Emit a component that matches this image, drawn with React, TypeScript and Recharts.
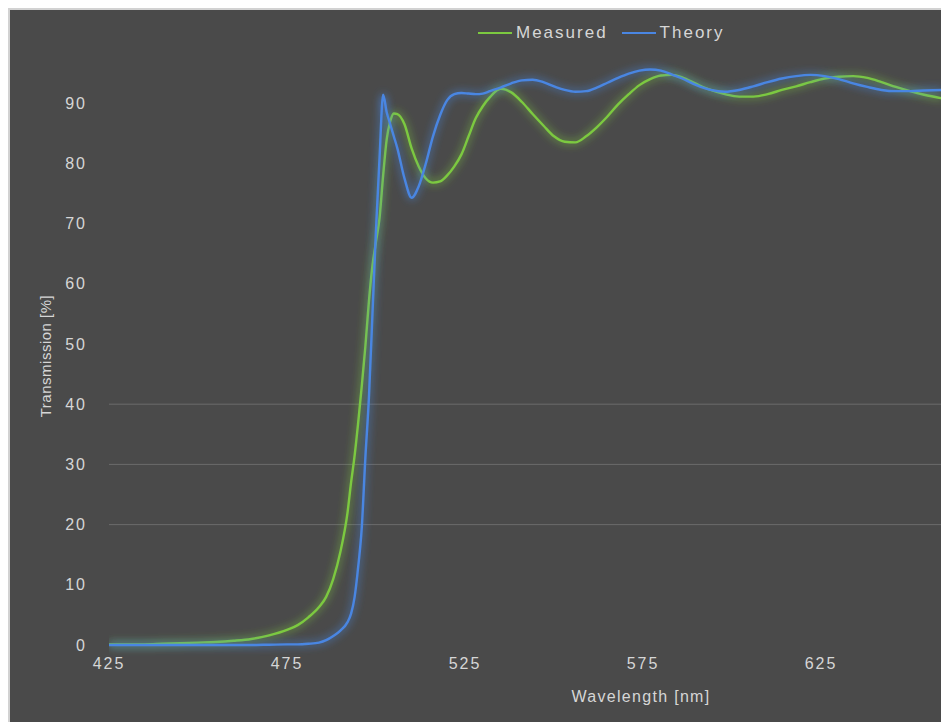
import { LineChart, Line, XAxis, YAxis, ReferenceLine } from "recharts";

const wavelengths = [
  425, 430, 435, 440, 445, 450, 455, 460, 465, 470,
  475, 478, 481, 484, 486, 488, 490, 492, 493, 494,
  495, 496, 497, 498, 499, 500, 501, 502, 503, 504,
  505, 506, 508, 510, 512, 514, 516, 518, 520, 522,
  524, 526, 528, 530, 532, 535, 538, 541, 544, 547,
  550, 553, 556, 559, 562, 565, 568, 571, 574, 577,
  580, 583, 586, 590, 594, 598, 602, 606, 610, 614,
  618, 622, 626, 630, 634, 638, 642, 646, 650, 654,
  659,
];

const measured = [
  0.1, 0.1, 0.1, 0.2, 0.3, 0.4, 0.5, 0.7, 1.0, 1.6,
  2.5, 3.3, 4.6, 6.3, 8, 11, 15.5, 22, 27, 31.5,
  37, 43, 49.5, 57, 63, 67, 71, 78, 84, 87,
  88.3, 88.2, 86.5, 82.5, 79.5, 77.5, 76.8, 77, 78, 79.5,
  81.5, 84.5, 87.5, 89.5, 91, 92.4, 91.8, 90.2, 88.2, 86.3,
  84.5, 83.6, 83.5, 84.5, 86, 87.8, 89.8, 91.5, 93, 94,
  94.6, 94.7, 94.3, 93.2, 92.2, 91.5, 91.1, 91.1, 91.5, 92.2,
  92.8, 93.5, 94.1, 94.4, 94.5, 94.2, 93.5, 92.7, 92, 91.4,
  90.8,
];

const theory = [
  0, 0, 0, 0, 0, 0, 0, 0, 0, 0.05,
  0.1, 0.1, 0.2, 0.4, 0.8, 1.5, 2.4, 3.8, 5.2, 8,
  13, 19.5, 31, 41, 55, 69, 81, 91.4, 88.5, 86.5,
  84.5, 82.5, 77.5, 74.3, 76.2, 80, 84.5, 88, 90.5, 91.5,
  91.7, 91.6, 91.5, 91.6, 92, 92.6, 93.3, 93.8, 93.9, 93.5,
  92.8, 92.2, 91.9, 92, 92.6, 93.4, 94.2, 94.9, 95.4, 95.6,
  95.4, 94.8, 94.1, 93, 92.2, 91.9, 92.2, 92.8, 93.5, 94.1,
  94.5, 94.7, 94.5, 94, 93.3, 92.7, 92.2, 92, 92, 92.1,
  92.2,
];

const xTicks = [425, 475, 525, 575, 625];
const yTicks = [0, 10, 20, 30, 40, 50, 60, 70, 80, 90];
const gridValues = [20, 30, 40];

const data = wavelengths.map((wl, i) => ({ wl, measured: measured[i], theory: theory[i] }));

const GREEN = "#7cc940";
const BLUE = "#4a86e2";
const TEXT = "#d6d6d6";
const FONT = "'Liberation Sans', Arial, sans-serif";

const tickStyle = { fill: TEXT, fontSize: 16, fontFamily: FONT, letterSpacing: 2 };

const series = [
  { key: "measured", name: "Measured", color: GREEN },
  { key: "theory", name: "Theory", color: BLUE },
];

function ChartLegend() {
  return (
    <div
      style={{
        position: "absolute",
        left: 468,
        top: 13,
        display: "flex",
        alignItems: "center",
        fontFamily: FONT,
        fontSize: 17,
        letterSpacing: 2,
        color: TEXT,
      }}
    >
      {series.map((s, i) => (
        <div key={s.key} style={{ display: "flex", alignItems: "center", marginRight: i === 0 ? 14 : 0 }}>
          <svg width={36} height={4} style={{ marginRight: 2 }}>
            <line x1={0} y1={2} x2={34} y2={2} stroke={s.color} strokeWidth={2} />
          </svg>
          <span>{s.name}</span>
        </div>
      ))}
    </div>
  );
}

export default function App() {
  return (
    <div
      style={{
        position: "absolute",
        left: 8,
        top: 8,
        width: 933,
        height: 714,
        background: "#4a4a4a",
        borderLeft: "2px solid #d2d2d2",
        borderTop: "2px solid #d2d2d2",
        boxSizing: "border-box",
        overflow: "hidden",
      }}
    >
      <style>{".glow-line .recharts-line-curve{filter:url(#glow);}"}</style>
      <LineChart width={931} height={712} data={data} margin={{ top: 33, right: 0, bottom: 47, left: 0 }}>
        <defs>
          <filter id="glow" filterUnits="userSpaceOnUse" x={0} y={0} width={931} height={712}>
            <feGaussianBlur in="SourceGraphic" stdDeviation={4} result="blur" />
            <feComponentTransfer in="blur" result="soft">
              <feFuncA type="linear" slope={1.1} />
            </feComponentTransfer>
            <feMerge>
              <feMergeNode in="soft" />
              <feMergeNode in="SourceGraphic" />
            </feMerge>
          </filter>
        </defs>
        {gridValues.map((v) => (
          <ReferenceLine key={v} y={v} stroke="#6b6b6b" strokeWidth={1} />
        ))}
        <XAxis
          dataKey="wl"
          type="number"
          domain={[425, 658.7]}
          ticks={xTicks}
          allowDataOverflow
          axisLine={false}
          tickLine={false}
          tickSize={6}
          tickMargin={7}
          tick={tickStyle}
          label={{
            value: "Wavelength [nm]",
            position: "bottom",
            offset: 16,
            dx: 116,
            style: { fill: TEXT, fontSize: 16, fontFamily: FONT, letterSpacing: 1.3 },
          }}
        />
        <YAxis
          domain={[0, 100]}
          ticks={yTicks}
          width={99}
          axisLine={false}
          tickLine={false}
          tickSize={8}
          tickMargin={14}
          tick={tickStyle}
          label={{
            value: "Transmission [%]",
            angle: -90,
            position: "center",
            dx: -14,
            dy: 12,
            style: { fill: TEXT, fontSize: 15, fontFamily: FONT, letterSpacing: 0.5 },
          }}
        />
        {series.map((s) => (
          <Line
            key={s.key}
            className="glow-line"
            type="monotone"
            dataKey={s.key}
            name={s.name}
            stroke={s.color}
            strokeWidth={2.4}
            dot={false}
            isAnimationActive={false}
          />
        ))}
      </LineChart>
      <ChartLegend />
    </div>
  );
}
